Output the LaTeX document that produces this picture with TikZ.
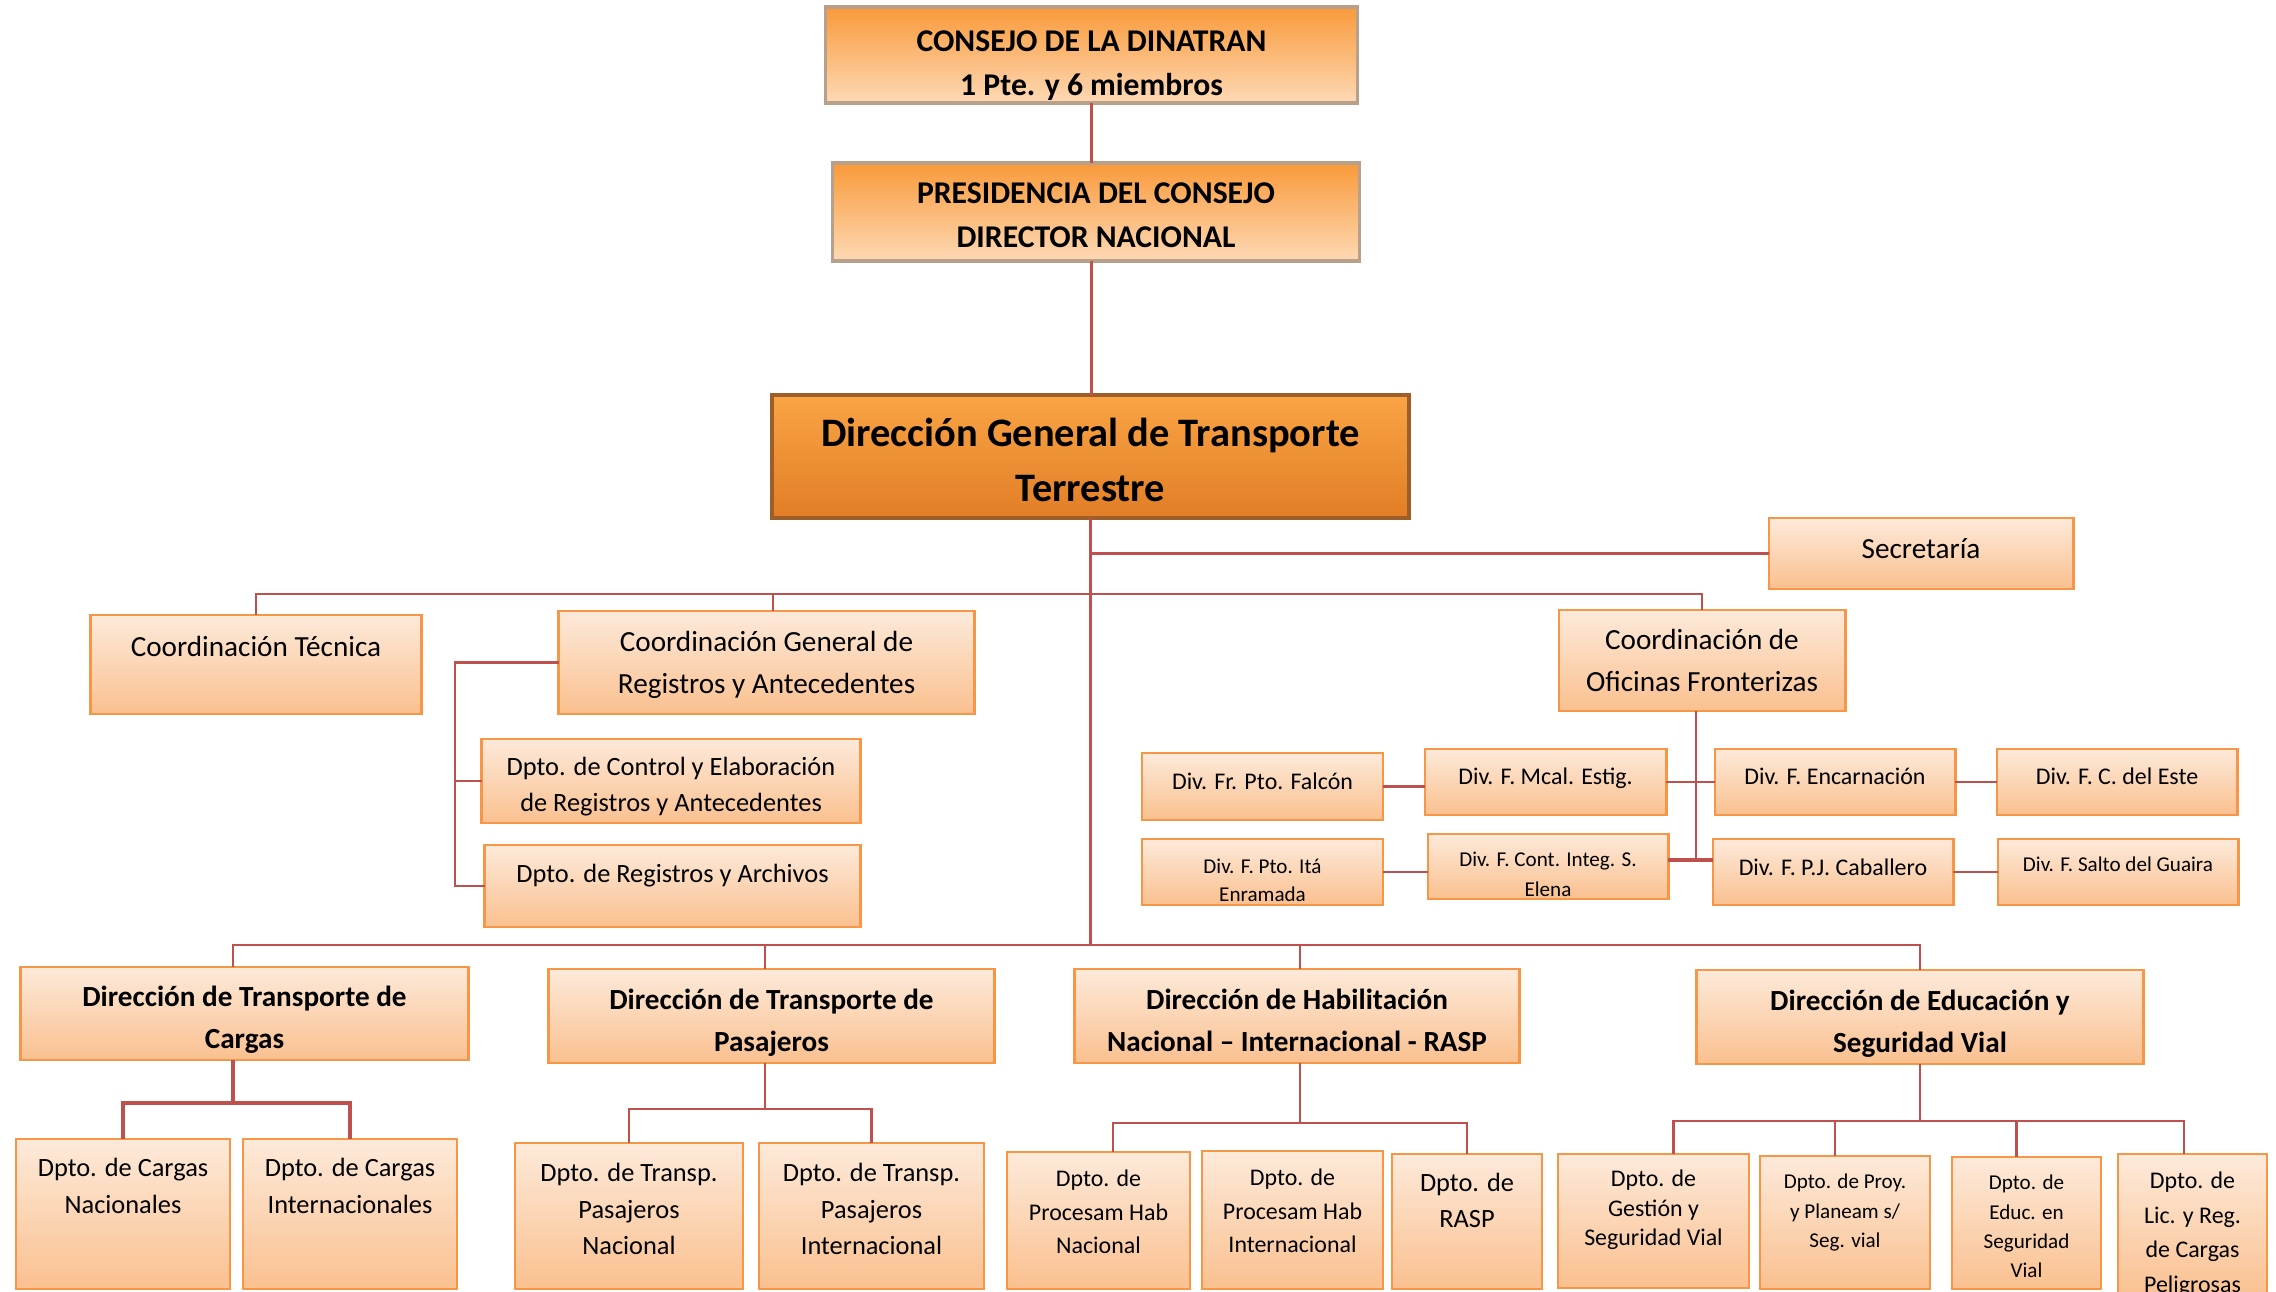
\documentclass[tikz,border=0pt]{standalone}
\usepackage{fontspec}
\setmainfont{Carlito}
\definecolor{bord}{HTML}{F79646}
\definecolor{btop}{HTML}{FDEADA}
\definecolor{bbot}{HTML}{FAC08F}
\definecolor{ttop}{HTML}{F99A3A}
\definecolor{tbot}{HTML}{FDD9B5}
\definecolor{tbord}{HTML}{B9A08A}
\definecolor{mtop}{HTML}{F9A444}
\definecolor{mbot}{HTML}{E27E26}
\definecolor{mbord}{HTML}{9E5E2A}
\definecolor{lnk}{HTML}{C0504D}
\newdimen\upx \upx=0.01cm
\newcommand\bx[9][box]{%
  \pgfmathsetmacro\bxw{(#5-#3)/100}%
  \pgfmathsetmacro\bxh{(#6-#4)/100}%
  \pgfmathsetmacro\bxcx{(#3+#5)/2}%
  \pgfmathsetmacro\bxcy{(#4+#6)/2}%
  \node[#1] (#2) at (\bxcx,\bxcy) {\parbox[c][\bxh cm][t]{\bxw cm}{\fontsize#8\selectfont\centering
    \vspace*{\dimexpr#7\upx-0.7\baselineskip\relax}\strut#9}};}
\tikzset{
  box/.style={draw=bord, line width=0.8pt, top color=btop, bottom color=bbot, inner sep=0pt, outer sep=0pt},
  topbox/.style={draw=tbord, line width=0.9pt, top color=ttop, bottom color=tbot, inner sep=0pt, outer sep=0pt},
  mainbox/.style={draw=mbord, line width=1pt, top color=mtop, bottom color=mbot, inner sep=0pt, outer sep=0pt},
  conn/.style={draw=lnk, line width=0.7pt},
}
\begin{document}
\begin{tikzpicture}[x=0.01cm, y=-0.01cm]
\fill[white] (0,0) rectangle (2276,1291);
\useasboundingbox (0,0) rectangle (2276,1291);
% top levels
\bx[topbox]{consejo}{826}{7}{1357}{103}{45}{{9}{12.5}}{\bfseries CONSEJO DE LA DINATRAN\\1 Pte. y 6 miembros}
\bx[topbox]{presid}{833}{163}{1359}{261}{41}{{9}{12.5}}{\bfseries PRESIDENCIA DEL CONSEJO\\DIRECTOR NACIONAL}
\bx[mainbox]{dgtt}{772}{395}{1409}{518}{52}{{11.5}{15.6}}{\bfseries Dirección General de Transporte\\Terrestre}
% staff
\bx{secre}{1769}{518}{2073}{589}{41}{{8.3}{11.7}}{Secretaría}
\bx{ctec}{91}{615}{421}{714}{42}{{8.3}{11.7}}{Coordinación Técnica}
\bx{cgen}{559}{611}{974}{714}{41}{{8.3}{11.7}}{Coordinación General de\\Registros y Antecedentes}
\bx{cof}{1559}{610}{1845}{711}{40}{{8.3}{11.7}}{Coordinación de\\Oficinas Fronterizas}
\bx{dctrl}{482}{739}{860}{823}{37}{{7.5}{10.2}}{Dpto. de Control y Elaboración\\de Registros y Antecedentes}
\bx{darch}{485}{845}{860}{927}{38}{{7.5}{10.2}}{Dpto. de Registros y Archivos}
% border divisions
\bx{falcon}{1142}{753}{1383}{820}{37}{{6.8}{9.5}}{Div. Fr. Pto. Falcón}
\bx{mcal}{1425}{749}{1666}{815}{36}{{6.8}{9.5}}{Div. F. Mcal. Estig.}
\bx{encar}{1715}{749}{1955}{815}{36}{{6.8}{9.5}}{Div. F. Encarnación}
\bx{cdeleste}{1997}{749}{2237}{815}{36}{{6.8}{9.5}}{Div. F. C. del Este}
\bx{ita}{1142}{839}{1383}{905}{35}{{6}{7.8}}{Div. F. Pto. Itá\\Enramada}
\bx{contint}{1428}{834}{1668}{899}{33}{{6}{8.3}}{Div. F. Cont. Integ. S.\\Elena}
\bx{pjc}{1713}{839}{1953}{905}{37}{{6.8}{9.5}}{Div. F. P.J. Caballero}
\bx{salto}{1998}{839}{2238}{905}{33}{{6}{8.3}}{Div. F. Salto del Guaira}
% directions
\bx{dcargas}{21}{967}{468}{1060}{40}{{8.3}{11.7}}{\bfseries Dirección de Transporte de\\Cargas}
\bx{dpas}{549}{969}{994}{1063}{41}{{8.3}{11.7}}{\bfseries Dirección de Transporte de\\Pasajeros}
\bx{dhab}{1075}{969}{1519}{1063}{41}{{8.3}{11.7}}{\bfseries Dirección de Habilitación\\Nacional – Internacional - RASP}
\bx{dedu}{1697}{970}{2143}{1064}{41}{{8.3}{11.7}}{\bfseries Dirección de Educación y\\Seguridad Vial}
% departments
\bx{dcn}{16}{1139}{230}{1289}{38}{{7.5}{10.5}}{Dpto. de Cargas\\Nacionales}
\bx{dci}{243}{1139}{457}{1289}{38}{{7.5}{10.5}}{Dpto. de Cargas\\Internacionales}
\bx{dtn}{515}{1143}{743}{1289}{39}{{7.5}{10.3}}{Dpto. de Transp.\\Pasajeros\\Nacional}
\bx{dti}{759}{1143}{984}{1289}{39}{{7.5}{10.3}}{Dpto. de Transp.\\Pasajeros\\Internacional}
\bx{dpn}{1007}{1152}{1190}{1289}{35}{{6.8}{9.4}}{Dpto. de\\Procesam Hab\\Nacional}
\bx{dpi}{1202}{1151}{1383}{1289}{35}{{6.8}{9.4}}{Dpto. de\\Procesam Hab\\Internacional}
\bx{rasp}{1392}{1154}{1542}{1289}{38}{{7.5}{10.2}}{Dpto. de\\RASP}
\bx{dgest}{1558}{1154}{1749}{1288}{33}{{6.8}{8.3}}{Dpto. de\\Gestión y\\Seguridad Vial}
\bx{dproy}{1760}{1156}{1930}{1289}{33}{{6}{8.3}}{Dpto. de Proy.\\y Planeam s/\\Seg. vial}
\bx{deduc}{1952}{1157}{2101}{1289}{33}{{6}{8.3}}{Dpto. de\\Educ. en\\Seguridad\\Vial}
\bx{dlic}{2118}{1154}{2267}{1300}{35}{{6.8}{9.8}}{Dpto. de\\Lic. y Reg.\\de Cargas\\Peligrosas}
% connectors
\coordinate (busA) at (1090,594);
\coordinate (busB) at (1090,945);
\coordinate (rl) at (455,0);
\coordinate (ofx) at (1696,860);
\draw[conn] (consejo.south) -- (consejo.south |- presid.north);
\draw[conn] (consejo.south |- presid.south) -- (consejo.south |- dgtt.north);
\draw[conn] (dgtt.south) -- (dgtt.south |- busB);
\draw[conn] (dgtt.south |- secre.west) -- (secre.west);
\draw[conn] (ctec.north) -- (ctec.north |- busA) -- (cof.north |- busA) -- (cof.north);
\draw[conn] ([xshift=0.065cm]cgen.north |- busA) -- ([xshift=0.065cm]cgen.north);
\draw[conn] (cgen.west) -| (rl |- darch.west) -- (darch.west);
\draw[conn] (rl |- dctrl.west) -- (dctrl.west);
\draw[conn] (ofx |- cof.south) -- (ofx);
\draw[conn, line width=1.3pt] (contint.east |- ofx) -- (pjc.west |- ofx);
\draw[conn] (mcal.east) -- (encar.west);
\draw[conn] (falcon.east) -- (falcon.east -| mcal.west);
\draw[conn] (encar.east) -- (encar.east -| cdeleste.west);
\draw[conn] (ita.east) -- (ita.east -| contint.west);
\draw[conn] (pjc.east) -- (pjc.east -| salto.west);
\draw[conn] ([xshift=-0.115cm]dcargas.north) -- ([xshift=-0.115cm]dcargas.north |- busB) -- (dedu.north |- busB) -- (dedu.north);
\draw[conn] ([xshift=-0.065cm]dpas.north |- busB) -- ([xshift=-0.065cm]dpas.north);
\draw[conn] ([xshift=0.03cm]dhab.north |- busB) -- ([xshift=0.03cm]dhab.north);
\draw[conn, line width=1pt] ([xshift=-0.115cm]dcargas.south) -- ++(0,43) coordinate (cj);
\draw[conn, line width=1pt] (dcn.north) |- (cj) -| (dci.north);
\draw[conn] ([xshift=-0.065cm]dpas.south) -- ++(0,46) coordinate (pj);
\draw[conn] (dtn.north) |- (pj) -| (dti.north);
\draw[conn] ([xshift=0.03cm]dhab.south) -- ++(0,60) coordinate (hj);
\draw[conn] ([xshift=0.145cm]dpn.north) |- (hj) -| (rasp.north);
\draw[conn] (dedu.south) -- ++(0,57) coordinate (ej);
\draw[conn] ([xshift=0.2cm]dgest.north) |- (ej) -| ([xshift=-0.085cm]dlic.north);
\draw[conn] ([xshift=-0.1cm]dproy.north) -- ([xshift=-0.1cm]dproy.north |- ej);
\draw[conn] ([xshift=-0.1cm]deduc.north) -- ([xshift=-0.1cm]deduc.north |- ej);
\end{tikzpicture}
\end{document}
